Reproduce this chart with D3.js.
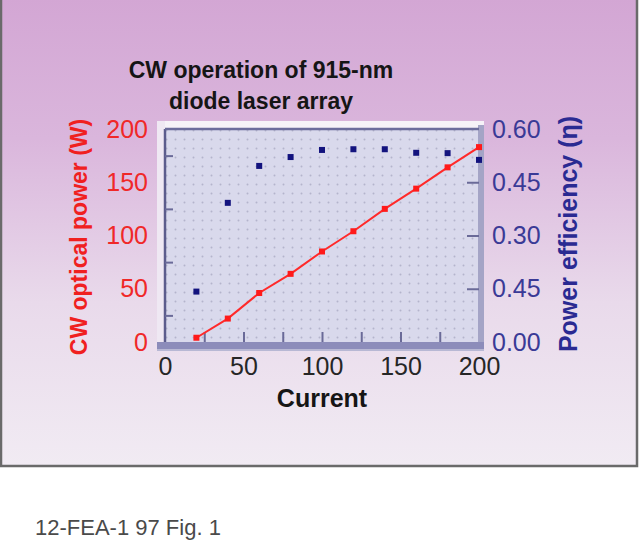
<!DOCTYPE html>
<html>
<head>
<meta charset="utf-8">
<script src="https://cdn.jsdelivr.net/npm/d3@7"></script>
<style>
  html, body { margin: 0; padding: 0; background: #ffffff; }
  svg { display: block; }
</style>
</head>
<body>
<script>
// ---- Data ----
const current = [20, 40, 60, 80, 100, 120, 140, 160, 180, 200];
const opticalPower = [4, 22, 46, 64, 85, 104, 125, 144, 164, 183];
const efficiency = [0.142, 0.392, 0.496, 0.521, 0.541, 0.543, 0.543, 0.533, 0.532, 0.513];
const xTicks = [0, 50, 100, 150, 200];
const leftTicks = [0, 50, 100, 150, 200];
const rightTicks = [0, 0.15, 0.30, 0.45, 0.60];
const rightTickLabels = ["0.00", "0.45", "0.30", "0.45", "0.60"];
const titleLines = ["CW operation of 915-nm", "diode laser array"];
const xTitle = "Current";
const leftTitle = "CW optical power (W)";
const rightTitle = "Power efficiency (\u03B7)";
const caption = "12-FEA-1 97 Fig. 1";

const W = 640, H = 558;
const font = "'Liberation Sans', Arial, Helvetica, sans-serif";
const svg = d3.select("body").append("svg").attr("width", W).attr("height", H);

const defs = svg.append("defs");
const bg = defs.append("linearGradient").attr("id", "bg").attr("x1", 0).attr("y1", 0).attr("x2", 0).attr("y2", 1);
bg.append("stop").attr("offset", "0%").attr("stop-color", "#d3a6d4");
bg.append("stop").attr("offset", "30%").attr("stop-color", "#dab6dc");
bg.append("stop").attr("offset", "65%").attr("stop-color", "#e9daeb");
bg.append("stop").attr("offset", "100%").attr("stop-color", "#f1ebf3");
const pat = defs.append("pattern").attr("id", "dots").attr("patternUnits", "userSpaceOnUse")
  .attr("width", 9).attr("height", 9);
pat.append("rect").attr("width", 9).attr("height", 9).attr("fill", "#d9d9ec");
pat.append("circle").attr("cx", 4.5).attr("cy", 4.5).attr("r", 1).attr("fill", "#b4b4cc");

// panel
svg.append("rect").attr("x", 1).attr("y", -2).attr("width", 636).attr("height", 468)
  .attr("fill", "url(#bg)").attr("stroke", "#6a6a6a").attr("stroke-width", 2.5);

// scales
const x = d3.scaleLinear().domain([0, 200]).range([165, 479]);
const yL = d3.scaleLinear().domain([0, 200]).range([342, 129]);
const yR = d3.scaleLinear().domain([0, 0.6]).range([342, 129]);

const [x0, x1] = x.range();
const yb = yL.range()[0], yt = yL.range()[1];

// frame bevels
svg.append("rect").attr("x", x0 - 8).attr("y", yt - 8).attr("width", x1 - x0 + 13).attr("height", 10)
  .attr("fill", "#f6f2f8");
svg.append("rect").attr("x", x0 - 8).attr("y", yt - 8).attr("width", 8).attr("height", yb - yt + 14)
  .attr("fill", "#efe8f3");
svg.append("rect").attr("x", x0).attr("y", yt).attr("width", x1 - x0).attr("height", yb - yt)
  .attr("fill", "url(#dots)");
svg.append("rect").attr("x", x1 - 1).attr("y", yt - 4).attr("width", 6).attr("height", yb - yt + 10)
  .attr("fill", "#a4a4c6");
svg.append("rect").attr("x", x0 - 8).attr("y", yb).attr("width", x1 - x0 + 13).attr("height", 8)
  .attr("fill", "#8c8cba");
svg.append("rect").attr("x", x0 - 8).attr("y", yb + 7).attr("width", x1 - x0 + 13).attr("height", 2)
  .attr("fill", "#b8b8d4");
svg.append("line").attr("x1", x0).attr("x2", x0).attr("y1", yt).attr("y2", yb)
  .attr("stroke", "#5c5c8c").attr("stroke-width", 2.5);
svg.append("line").attr("x1", x0).attr("x2", x1).attr("y1", yt).attr("y2", yt)
  .attr("stroke", "#6c6c9c").attr("stroke-width", 2.5);

// inward ticks
const tickStyle = g => { g.select(".domain").remove(); g.selectAll(".tick line").attr("stroke", "#6a6a98").attr("stroke-width", 2); g.selectAll("text").remove(); };
svg.append("g").attr("transform", `translate(0,${yb})`)
  .call(d3.axisBottom(x).tickValues([25, 50, 75, 100, 125, 150, 175]).tickSize(-10)).call(tickStyle);
svg.append("g").attr("transform", `translate(${x0},0)`)
  .call(d3.axisLeft(yL).tickValues([25, 75, 125, 175]).tickSize(-8)).call(tickStyle);
svg.append("g").attr("transform", `translate(${x1},0)`)
  .call(d3.axisRight(yR).tickValues([0.15, 0.30, 0.45]).tickSize(-12)).call(tickStyle);

// tick labels
const lab = (g) => { g.select(".domain").remove(); g.selectAll(".tick line").remove(); };
svg.append("g").attr("transform", `translate(0,${yb})`)
  .call(d3.axisBottom(x).tickValues(xTicks).tickSize(0).tickPadding(15).tickFormat(d3.format("d")))
  .call(lab)
  .selectAll("text").attr("font-family", font).attr("font-size", 25).attr("fill", "#262626");
svg.append("g").attr("transform", `translate(148,0)`)
  .call(d3.axisLeft(yL).tickValues(leftTicks).tickSize(0).tickPadding(0).tickFormat(d3.format("d")))
  .call(lab)
  .selectAll("text").attr("font-family", font).attr("font-size", 25).attr("fill", "#f02828");
svg.append("g").attr("transform", `translate(492,0)`)
  .call(d3.axisRight(yR).tickValues(rightTicks).tickSize(0).tickPadding(0)
    .tickFormat((d, i) => rightTickLabels[i]))
  .call(lab)
  .selectAll("text").attr("font-family", font).attr("font-size", 25).attr("fill", "#3a3a96");

// titles
svg.append("g").selectAll("text").data(titleLines).join("text")
  .attr("x", 261).attr("y", (d, i) => 78 + i * 31)
  .attr("text-anchor", "middle").attr("font-family", font).attr("font-weight", "bold")
  .attr("font-size", 23).attr("fill", "#151515").text(d => d);
svg.append("text").attr("x", 322).attr("y", 407).attr("text-anchor", "middle")
  .attr("font-family", font).attr("font-weight", "bold").attr("font-size", 25)
  .attr("fill", "#151515").text(xTitle);
svg.append("text").attr("transform", "translate(87,237) rotate(-90)").attr("text-anchor", "middle")
  .attr("font-family", font).attr("font-weight", "bold").attr("font-size", 23)
  .attr("fill", "#f02020").text(leftTitle);
svg.append("text").attr("transform", "translate(577,234) rotate(-90)").attr("text-anchor", "middle")
  .attr("font-family", font).attr("font-weight", "bold").attr("font-size", 25)
  .attr("fill", "#2a2a92").text(rightTitle);

// data: optical power (red line + squares)
const pts = current.map((c, i) => ({ c, p: opticalPower[i], e: efficiency[i] }));
svg.append("path").datum(pts)
  .attr("d", d3.line().x(d => x(d.c)).y(d => yL(d.p)))
  .attr("fill", "none").attr("stroke", "#ff2a2a").attr("stroke-width", 2);
svg.append("g").selectAll("rect").data(pts).join("rect")
  .attr("x", d => x(d.c) - 3).attr("y", d => yL(d.p) - 3).attr("width", 6).attr("height", 6)
  .attr("fill", "#ff1a1a");
// efficiency (blue squares)
svg.append("g").selectAll("rect").data(pts).join("rect")
  .attr("x", d => x(d.c) - 3).attr("y", d => yR(d.e) - 3).attr("width", 6).attr("height", 6)
  .attr("fill", "#13137e");

// caption
svg.append("text").attr("x", 35).attr("y", 535).attr("font-family", font).attr("font-size", 22)
  .attr("fill", "#4a4a4a").text(caption);
</script>
</body>
</html>
